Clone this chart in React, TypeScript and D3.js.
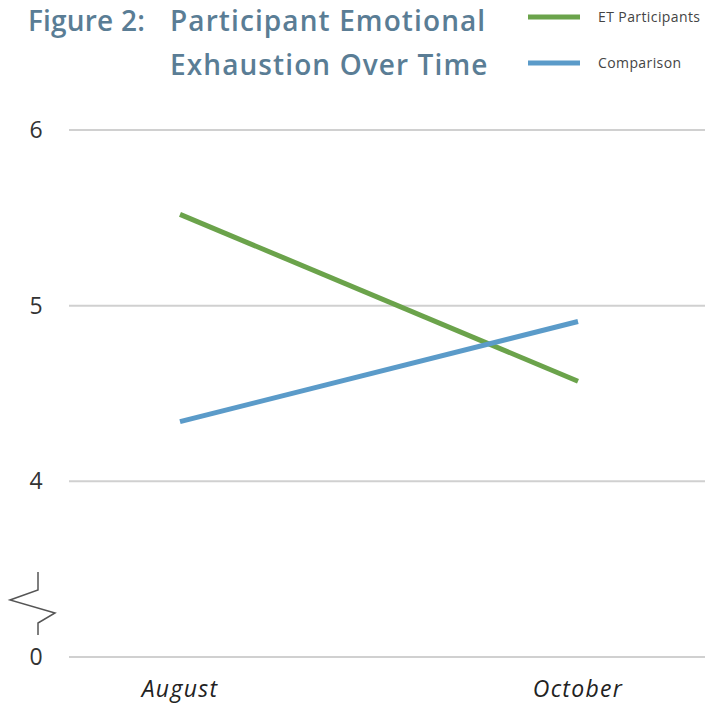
import * as d3 from "d3";

const months = ["August", "October"];
const etParticipants = [5.52, 4.57];
const comparison = [4.34, 4.91];
const yTicks = [0, 4, 5, 6];
const seriesNames = ["ET Participants", "Comparison"];
const titleLines = ["Participant Emotional", "Exhaustion Over Time"];

const width = 705;
const height = 706;
const green = "#6ba34b";
const blue = "#5b9bc9";
const titleColor = "#5a7d95";
const font = "'Open Sans', sans-serif";

export default function App() {
  const x = d3.scalePoint<string>().domain(months).range([180, 578]);
  // broken axis: values below 4 are drawn at the "3" slot
  const yLin = d3.scaleLinear().domain([3, 6]).range([657, 130]);
  const y = (v: number) => yLin(v < 4 ? 3 : v);

  const line = d3
    .line<number>()
    .x((_, i) => x(months[i]) as number)
    .y((d) => y(d));

  const series = [
    { name: seriesNames[0], values: etParticipants, color: green },
    { name: seriesNames[1], values: comparison, color: blue },
  ];

  const breakPath = d3.line()([
    [38, 572],
    [38, 590],
    [10, 600],
    [55, 613],
    [38, 623],
    [38, 635],
  ]);

  return (
    <svg
      width={width}
      height={height}
      style={{ position: "absolute", left: 0, top: 0, background: "#fff" }}
    >
      {/* title */}
      <g fontFamily={font} fontWeight={600} fill={titleColor} fontSize={28} letterSpacing={1.1}>
        <text x={28} y={31} letterSpacing={0.2}>Figure 2:</text>
        <text x={170} y={31}>{titleLines[0]}</text>
        <text x={170} y={75}>{titleLines[1]}</text>
      </g>

      {/* legend */}
      {series.map((s, i) => (
        <g key={s.name} transform={`translate(0,${17 + i * 46})`}>
          <line x1={528} x2={580} stroke={s.color} strokeWidth={5} />
          <text x={598} dy="0.35em" fontFamily={font} fontSize={14} letterSpacing={0.4} fill="#444">
            {s.name}
          </text>
        </g>
      ))}

      {/* grid + y ticks */}
      {yTicks.map((t) => (
        <g key={t}>
          <line x1={69} x2={width} y1={y(t)} y2={y(t)} stroke="#d0d0d0" strokeWidth={2} />
          <text
            x={36}
            y={y(t)}
            dy="0.35em"
            textAnchor="middle"
            fontFamily={font}
            fontSize={23}
            fill="#333"
          >
            {t}
          </text>
        </g>
      ))}

      <path d={breakPath ?? ""} fill="none" stroke="#555" strokeWidth={1.5} />

      {/* x labels */}
      {months.map((m) => (
        <text
          key={m}
          x={x(m)}
          y={697}
          textAnchor="middle"
          fontFamily={font}
          fontStyle="italic"
          fontSize={23}
          letterSpacing={1.3}
          fill="#222"
        >
          {m}
        </text>
      ))}

      {/* lines */}
      {series.map((s) => (
        <path key={s.name} d={line(s.values) ?? ""} fill="none" stroke={s.color} strokeWidth={5} />
      ))}
    </svg>
  );
}
